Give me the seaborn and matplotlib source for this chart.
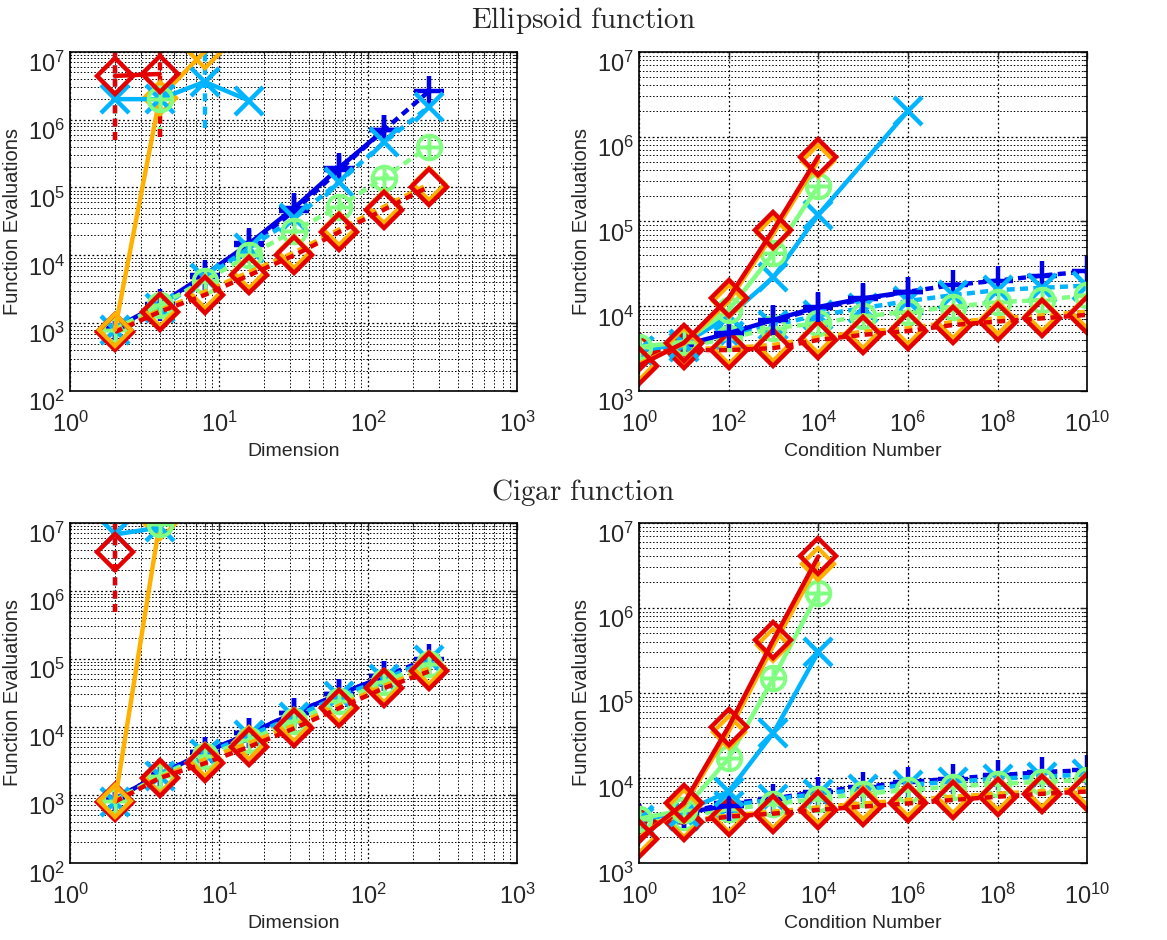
import numpy as np
import matplotlib
matplotlib.use("Agg")
import matplotlib.pyplot as plt
from matplotlib.path import Path
import seaborn as sns

sns.set_style("white")
plt.rcParams['font.family'] = ['Liberation Sans', 'DejaVu Sans']
plt.rcParams['mathtext.fontset'] = 'cm'

# x values
dims = [2, 4, 8, 16, 32, 64, 128, 256]
conds = [1e0, 1e1, 1e2, 1e3, 1e4, 1e5, 1e6, 1e7, 1e8, 1e9, 1e10]

# Ellipsoid vs dimension
ell_dim_blue_solid = [850, 1900, 5100, 15000, 50000, 195000, 700000]
ell_dim_blue_dash = [820, 1800, 4800, 14000, 45000, 180000, 700000, 2.6e6]
ell_dim_cyan_solid = [2.0e6, 2.0e6, 3.6e6, 1.9e6]
ell_dim_cyan_dash = [780, 1650, 4600, 13000, 35000, 120000, 460000, 1.55e6]
ell_dim_green_solid = [2.0e6]
ell_dim_green_dash = [800, 1850, 4200, 10000, 23000, 52000, 140000, 400000]
ell_dim_orange_solid = [800, 2.1e6, 1.0e7]
ell_dim_orange_dash = [760, 1550, 2900, 5700, 11000, 24000, 52000, 112000]
ell_dim_red_solid = [4.4e6, 4.7e6]
ell_dim_red_dash = [740, 1470, 2600, 5100, 10000, 22000, 47000, 103000]
ell_dim_bar_x = [2, 2, 4, 4, 8]
ell_dim_bar_lo = [5e5, 5e5, 6e5, 5.5e5, 7.6e5]
ell_dim_bar_hi = [1.2e7, 1.2e7, 2.0e6, 1.2e7, 1.2e7]
ell_dim_bar_col = ['cyan', 'red', 'green', 'red', 'cyan']

# Ellipsoid vs condition number
ell_cond_blue_solid = [3200, 3500, 4800, 6900, 9800, 12400, 14800]
ell_cond_blue_dash = [3100, 3400, 4700, 6700, 9500, 12000, 14800, 17800, 20000, 23000, 25700]
ell_cond_cyan_x = [1e0, 1e1, 1e2, 1e3, 1e4, 1e6]
ell_cond_cyan_solid = [3000, 3600, 7600, 22000, 1.2e5, 2.0e6]
ell_cond_cyan_dash = [3000, 3300, 4500, 6000, 7800, 9500, 11500, 13500, 15500, 16500, 17500]
ell_cond_green_solid = [3300, 3800, 9000, 42000, 2.6e5]
ell_cond_green_dash = [3100, 3300, 4200, 5500, 6300, 7600, 8600, 9800, 11200, 11800, 13500]
ell_cond_orange_solid = [2100, 3600, 11500, 72000, 5.2e5]
ell_cond_orange_dash = [2950, 3150, 3200, 3500, 4300, 5000, 5500, 6500, 7200, 7800, 8600]
ell_cond_red_solid = [2000, 3700, 12500, 80000, 5.8e5]
ell_cond_red_dash = [2900, 3040, 3040, 3200, 4000, 4600, 5100, 6000, 6600, 7200, 7900]

# Cigar vs dimension
cig_dim_blue_solid = [870, 2000, 4200, 8000, 16000, 30000, 55000]
cig_dim_blue_dash = [870, 2000, 4200, 8000, 16000, 30000, 55000, 100000]
cig_dim_cyan_solid = [6.7e6, 8.5e6]
cig_dim_cyan_dash = [780, 1900, 4000, 7500, 14000, 28000, 50000, 95000]
cig_dim_green_solid = [9.5e6]
cig_dim_green_dash = [820, 1900, 3700, 6500, 12000, 24000, 45000, 85000]
cig_dim_orange_solid = [800, 1.0e7]
cig_dim_orange_dash = [800, 1800, 3300, 5800, 10500, 20500, 40000, 72000]
cig_dim_red_solid = [3.7e6]
cig_dim_red_dash = [790, 1770, 2900, 5100, 9500, 18800, 37000, 65000]
cig_dim_bar_x = [2, 2]
cig_dim_bar_lo = [4.8e5, 4.8e5]
cig_dim_bar_hi = [1.2e7, 1.2e7]
cig_dim_bar_col = ['cyan', 'red']

# Cigar vs condition number
cig_cond_blue_solid = [3300, 3900, 4700]
cig_cond_blue_dash = [3300, 3900, 5000, 5700, 6900, 7800, 8900, 9800, 10700, 11700, 12300]
cig_cond_cyan_solid = [3200, 4000, 6900, 34000, 3.0e5]
cig_cond_cyan_dash = [3000, 3600, 4700, 5600, 6500, 7300, 8300, 9000, 9800, 10300, 11000]
cig_cond_green_solid = [3300, 4200, 17000, 1.5e5, 1.5e6]
cig_cond_green_dash = [3200, 3500, 4300, 4900, 5700, 6500, 7200, 7900, 8500, 9000, 9500]
cig_cond_orange_solid = [2000, 4700, 35000, 3.6e5, 3.3e6]
cig_cond_orange_dash = [2950, 3100, 3600, 4000, 4500, 5000, 5500, 6000, 6500, 7000, 7400]
cig_cond_red_solid = [1900, 5000, 40000, 4.2e5, 4.0e6]
cig_cond_red_dash = [2900, 3000, 3500, 3800, 4200, 4600, 5000, 5500, 6000, 6500, 6900]

colors = {'blue': '#0000e8', 'cyan': '#00b4ff', 'green': '#80ff80',
          'orange': '#ffb000', 'red': '#e40000'}

oplus = Path.make_compound_path(Path.unit_circle(),
                                Path([[-1, 0], [1, 0]]),
                                Path([[0, -1], [0, 1]]))
marks = {'blue': dict(marker='+', markersize=22, mew=3.2),
         'cyan': dict(marker='x', markersize=20, mew=3.2),
         'green': dict(marker=oplus, markersize=17, mew=2.8, mfc='none'),
         'orange': dict(marker='D', markersize=16, mew=3.0, mfc='none'),
         'red': dict(marker='D', markersize=18, mew=3.2, mfc='none')}
dash = (0, (1.8, 1.2))


def series(ax, x, y, name, solid):
    ls = '-' if solid else dash
    sns.lineplot(x=list(x), y=list(y), ax=ax, color=colors[name],
                 linestyle=ls, linewidth=3.2, estimator=None, sort=False,
                 mec=colors[name], clip_on=True, **marks[name])


def bars(ax, x, lo, hi, cols):
    for xi, a, b, c in zip(x, lo, hi, cols):
        ax.vlines(xi, a, b, colors=colors[c], linestyles=[dash],
                  linewidth=3.2, zorder=1.5)


def style(ax, xlim, ylim, xlabel, cond):
    ax.set_xscale('log')
    ax.set_yscale('log')
    ax.set_xlim(*xlim)
    ax.set_ylim(*ylim)
    if cond:
        ax.set_xticks([10.0 ** k for k in range(0, 11, 2)])
        ax.xaxis.set_minor_locator(matplotlib.ticker.NullLocator())
    else:
        ax.set_xticks([1, 10, 100, 1000])
    lo, hi = int(np.log10(ylim[0])), int(np.log10(ylim[1]))
    ax.set_yticks([10.0 ** k for k in range(lo, hi + 1)])
    ax.grid(True, which='major', color='black', linestyle=(0, (1.5, 2)), linewidth=0.9)
    ax.grid(True, which='minor', color='black', linestyle=(0, (1.5, 2)), linewidth=0.7)
    ax.tick_params(which='both', direction='in', top=True, right=True, labelsize=17)
    ax.tick_params(which='major', length=5, width=1)
    ax.tick_params(which='minor', length=3, width=0.8)
    ax.tick_params(axis='x', pad=15)
    for s in ax.spines.values():
        s.set_color('black')
        s.set_linewidth(1.2)
    ax.set_xlabel(xlabel, fontsize=14)
    ax.set_ylabel('Function Evaluations', fontsize=14.5)
    for t in ax.get_yticklabels():
        t.set_verticalalignment('top')


def panel_dim(ax, d):
    series(ax, dims[:len(d['blue_dash'])], d['blue_dash'], 'blue', False)
    series(ax, dims[:len(d['blue_solid'])], d['blue_solid'], 'blue', True)
    series(ax, dims[:len(d['cyan_dash'])], d['cyan_dash'], 'cyan', False)
    series(ax, dims[:len(d['green_dash'])], d['green_dash'], 'green', False)
    series(ax, dims[:len(d['orange_dash'])], d['orange_dash'], 'orange', False)
    series(ax, dims[:len(d['red_dash'])], d['red_dash'], 'red', False)
    bars(ax, d['bar_x'], d['bar_lo'], d['bar_hi'], d['bar_col'])
    series(ax, dims[:len(d['orange_solid'])], d['orange_solid'], 'orange', True)
    series(ax, dims[:len(d['cyan_solid'])], d['cyan_solid'], 'cyan', True)
    series(ax, dims[1:1 + len(d['green_solid'])], d['green_solid'], 'green', True)
    series(ax, dims[:len(d['red_solid'])], d['red_solid'], 'red', True)
    style(ax, (1, 1000), (1e2, 1e7), 'Dimension', False)


def panel_cond(ax, d, cyan_x):
    series(ax, conds[:len(d['blue_dash'])], d['blue_dash'], 'blue', False)
    series(ax, conds[:len(d['cyan_dash'])], d['cyan_dash'], 'cyan', False)
    series(ax, conds[:len(d['green_dash'])], d['green_dash'], 'green', False)
    series(ax, conds[:len(d['orange_dash'])], d['orange_dash'], 'orange', False)
    series(ax, conds[:len(d['red_dash'])], d['red_dash'], 'red', False)
    series(ax, conds[:len(d['blue_solid'])], d['blue_solid'], 'blue', True)
    series(ax, cyan_x, d['cyan_solid'], 'cyan', True)
    series(ax, conds[:len(d['green_solid'])], d['green_solid'], 'green', True)
    series(ax, conds[:len(d['orange_solid'])], d['orange_solid'], 'orange', True)
    series(ax, conds[:len(d['red_solid'])], d['red_solid'], 'red', True)
    style(ax, (1, 1e10), (1e3, 1e7), 'Condition Number', True)


fig = plt.figure(figsize=(11.67, 9.4), dpi=100)
ax1 = fig.add_axes([0.060, 0.584, 0.383, 0.361])
ax2 = fig.add_axes([0.5476, 0.584, 0.384, 0.361])
ax3 = fig.add_axes([0.060, 0.082, 0.383, 0.362])
ax4 = fig.add_axes([0.5476, 0.082, 0.384, 0.362])

panel_dim(ax1, dict(blue_solid=ell_dim_blue_solid, blue_dash=ell_dim_blue_dash,
                    cyan_solid=ell_dim_cyan_solid, cyan_dash=ell_dim_cyan_dash,
                    green_solid=ell_dim_green_solid, green_dash=ell_dim_green_dash,
                    orange_solid=ell_dim_orange_solid, orange_dash=ell_dim_orange_dash,
                    red_solid=ell_dim_red_solid, red_dash=ell_dim_red_dash,
                    bar_x=ell_dim_bar_x, bar_lo=ell_dim_bar_lo,
                    bar_hi=ell_dim_bar_hi, bar_col=ell_dim_bar_col))
panel_cond(ax2, dict(blue_solid=ell_cond_blue_solid, blue_dash=ell_cond_blue_dash,
                     cyan_solid=ell_cond_cyan_solid, cyan_dash=ell_cond_cyan_dash,
                     green_solid=ell_cond_green_solid, green_dash=ell_cond_green_dash,
                     orange_solid=ell_cond_orange_solid, orange_dash=ell_cond_orange_dash,
                     red_solid=ell_cond_red_solid, red_dash=ell_cond_red_dash),
           ell_cond_cyan_x)
panel_dim(ax3, dict(blue_solid=cig_dim_blue_solid, blue_dash=cig_dim_blue_dash,
                    cyan_solid=cig_dim_cyan_solid, cyan_dash=cig_dim_cyan_dash,
                    green_solid=cig_dim_green_solid, green_dash=cig_dim_green_dash,
                    orange_solid=cig_dim_orange_solid, orange_dash=cig_dim_orange_dash,
                    red_solid=cig_dim_red_solid, red_dash=cig_dim_red_dash,
                    bar_x=cig_dim_bar_x, bar_lo=cig_dim_bar_lo,
                    bar_hi=cig_dim_bar_hi, bar_col=cig_dim_bar_col))
panel_cond(ax4, dict(blue_solid=cig_cond_blue_solid, blue_dash=cig_cond_blue_dash,
                     cyan_solid=cig_cond_cyan_solid, cyan_dash=cig_cond_cyan_dash,
                     green_solid=cig_cond_green_solid, green_dash=cig_cond_green_dash,
                     orange_solid=cig_cond_orange_solid, orange_dash=cig_cond_orange_dash,
                     red_solid=cig_cond_red_solid, red_dash=cig_cond_red_dash),
           conds[:len(cig_cond_cyan_solid)])

fig.text(0.5, 0.978, r'$\mathrm{Ellipsoid\ function}$', ha='center', va='center', fontsize=21)
fig.text(0.5, 0.476, r'$\mathrm{Cigar\ function}$', ha='center', va='center', fontsize=21)

fig.savefig('out.png', dpi=100)
